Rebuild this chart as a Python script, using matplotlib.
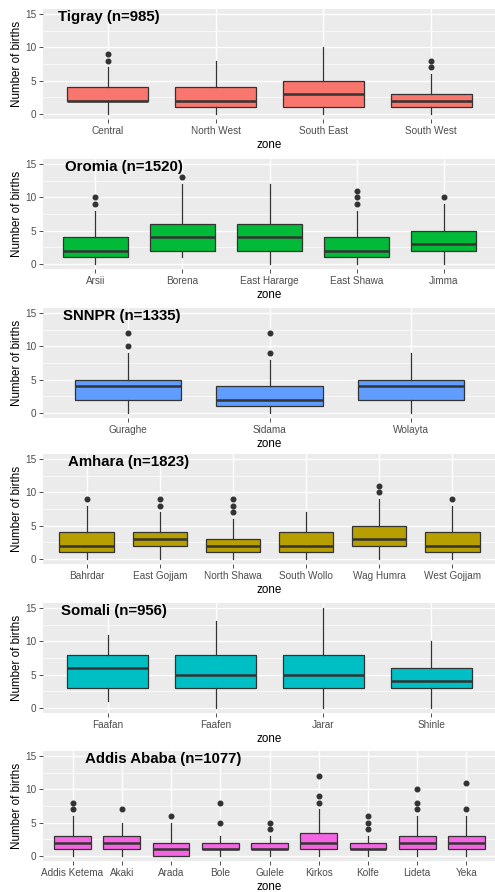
import matplotlib
matplotlib.use('Agg')
from matplotlib import pyplot as plt
from matplotlib.ticker import MultipleLocator

plt.rcParams['font.family'] = ['Liberation Sans', 'DejaVu Sans']

# ---- data ----
regions = ['Tigray (n=985)', 'Oromia (n=1520)', 'SNNPR (n=1335)',
           'Amhara (n=1823)', 'Somali (n=956)', 'Addis Ababa (n=1077)']

tigray_zones = ['Central', 'North West', 'South East', 'South West']
tigray_q1 = [2, 1, 1, 1]
tigray_med = [2, 2, 3, 2]
tigray_q3 = [4, 4, 5, 3]
tigray_lo = [0, 0, 0, 0]
tigray_hi = [7, 8, 10, 6]
tigray_out = [[8, 9], [], [], [7, 8]]

oromia_zones = ['Arsii', 'Borena', 'East Hararge', 'East Shawa', 'Jimma']
oromia_q1 = [1, 2, 2, 1, 2]
oromia_med = [2, 4, 4, 2, 3]
oromia_q3 = [4, 6, 6, 4, 5]
oromia_lo = [0, 1, 0, 0, 0]
oromia_hi = [8, 12, 12, 8, 9]
oromia_out = [[9, 10], [13], [], [9, 10, 11], [10]]

snnpr_zones = ['Guraghe', 'Sidama', 'Wolayta']
snnpr_q1 = [2, 1, 2]
snnpr_med = [4, 2, 4]
snnpr_q3 = [5, 4, 5]
snnpr_lo = [0, 0, 0]
snnpr_hi = [9, 8, 9]
snnpr_out = [[10, 12], [9, 12], []]

amhara_zones = ['Bahrdar', 'East Gojjam', 'North Shawa', 'South Wollo',
                'Wag Humra', 'West Gojjam']
amhara_q1 = [1, 2, 1, 1, 2, 1]
amhara_med = [2, 3, 2, 2, 3, 2]
amhara_q3 = [4, 4, 3, 4, 5, 4]
amhara_lo = [0, 0, 0, 0, 0, 0]
amhara_hi = [8, 7, 6, 7, 9, 8]
amhara_out = [[9], [8, 9], [7, 8, 9], [], [10, 11], [9]]

somali_zones = ['Faafan', 'Faafen', 'Jarar', 'Shinle']
somali_q1 = [3, 3, 3, 3]
somali_med = [6, 5, 5, 4]
somali_q3 = [8, 8, 8, 6]
somali_lo = [1, 0, 0, 0]
somali_hi = [11, 13, 15, 10]
somali_out = [[], [], [], []]

addis_zones = ['Addis Ketema', 'Akaki', 'Arada', 'Bole', 'Gulele', 'Kirkos',
               'Kolfe', 'Lideta', 'Yeka']
addis_q1 = [1, 1, 0, 1, 1, 1, 1, 1, 1]
addis_med = [2, 2, 1, 1, 1, 2, 1, 2, 2]
addis_q3 = [3, 3, 2, 2, 2, 3.5, 2, 3, 3]
addis_lo = [0, 0, 0, 0, 0, 0, 0, 0, 0]
addis_hi = [6, 5, 5, 3, 3, 7, 3, 6, 6]
addis_out = [[7, 8], [7], [6], [5, 8], [4, 5], [8, 9, 12], [4, 5, 6],
             [7, 8, 10], [7, 11]]

panels = [
    (tigray_zones, tigray_q1, tigray_med, tigray_q3, tigray_lo, tigray_hi, tigray_out),
    (oromia_zones, oromia_q1, oromia_med, oromia_q3, oromia_lo, oromia_hi, oromia_out),
    (snnpr_zones, snnpr_q1, snnpr_med, snnpr_q3, snnpr_lo, snnpr_hi, snnpr_out),
    (amhara_zones, amhara_q1, amhara_med, amhara_q3, amhara_lo, amhara_hi, amhara_out),
    (somali_zones, somali_q1, somali_med, somali_q3, somali_lo, somali_hi, somali_out),
    (addis_zones, addis_q1, addis_med, addis_q3, addis_lo, addis_hi, addis_out),
]

# ---- layout / style ----
colors = ['#F8766D', '#00BA38', '#619CFF', '#B79F00', '#00BFC4', '#F564E3']
W, H = 495, 892
panel_top = [9, 159, 308, 454, 603, 751]   # px from top
panel_h = 110
panel_left, panel_right = 43, 496
title_x = [58, 65, 63, 68, 61, 85]          # px from left
edge = '#333333'

fig = plt.figure(figsize=(W / 100, H / 100), dpi=100)

for i, (zones, q1, med, q3, lo, hi, out) in enumerate(panels):
    ax = fig.add_axes([panel_left / W, 1 - (panel_top[i] + panel_h) / H,
                       (panel_right - panel_left) / W, panel_h / H])
    stats = []
    for j in range(len(zones)):
        stats.append(dict(q1=q1[j], med=med[j], q3=q3[j], whislo=lo[j],
                          whishi=hi[j], fliers=out[j], label=zones[j]))
    ax.set_facecolor('#EBEBEB')
    ax.yaxis.set_minor_locator(MultipleLocator(2.5))
    ax.grid(True, which='major', color='white', linewidth=1.0)
    ax.grid(True, which='minor', axis='y', color='white', linewidth=0.5)
    ax.set_axisbelow(True)
    ax.bxp(stats, widths=0.75, patch_artist=True, showcaps=False,
           boxprops=dict(facecolor=colors[i], edgecolor=edge, linewidth=0.9),
           medianprops=dict(color=edge, linewidth=1.8),
           whiskerprops=dict(color=edge, linewidth=0.9),
           flierprops=dict(marker='o', markerfacecolor=edge, markeredgecolor=edge,
                           markersize=3.3))
    ax.set_xlim(0.4, len(zones) + 0.6)
    ax.set_ylim(-0.75, 15.75)
    ax.set_yticks([0, 5, 10, 15])
    for s in ax.spines.values():
        s.set_visible(False)
    ax.tick_params(axis='both', which='major', colors='#333333', labelcolor='#4D4D4D',
                   labelsize=7.2, length=3, width=0.6, pad=2)
    ax.tick_params(axis='both', which='minor', length=0)
    ax.set_xlabel('zone', fontsize=8.4, labelpad=2)
    ax.set_ylabel('Number of births', fontsize=8.4, labelpad=1.5)
    ax.text((title_x[i] - panel_left) / (panel_right - panel_left), 1 - 8 / panel_h,
            regions[i], transform=ax.transAxes, fontsize=10.8, fontweight='bold',
            ha='left', va='center')

fig.savefig('out.png', dpi=100)
